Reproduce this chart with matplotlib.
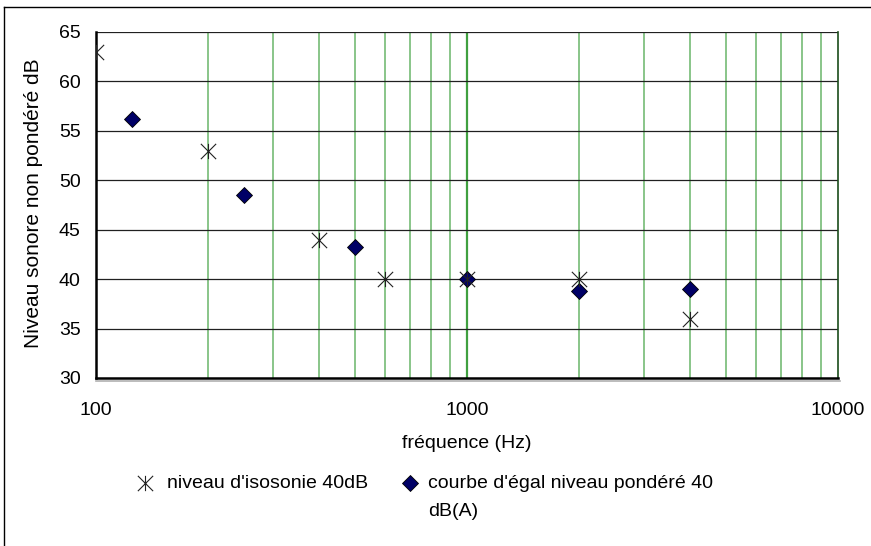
import matplotlib
matplotlib.use("Agg")
import matplotlib.pyplot as plt
from matplotlib.path import Path
from matplotlib.lines import Line2D
from matplotlib.ticker import NullLocator

plt.rcParams['font.family'] = ['Liberation Sans', 'DejaVu Sans']

# isosonie 40 dB
iso_freq = [100, 200, 400, 600, 1000, 2000, 4000]
iso_level = [63, 53, 44, 40, 40, 40, 36]

# courbe ponderee A
dba_freq = [125, 250, 500, 1000, 2000, 4000]
dba_level = [56.2, 48.5, 43.3, 40, 38.8, 39]

y_ticks = [30, 35, 40, 45, 50, 55, 60, 65]
x_ticks = [100, 1000, 10000]
x_labels = ['100', '1000', '10000']
minor_freqs = [200, 300, 400, 500, 600, 700, 800, 900,
               2000, 3000, 4000, 5000, 6000, 7000, 8000, 9000]

W, H = 871, 546

# asterisk like excel (vertical + two diagonals)
star = Path([(0, -1), (0, 1), (-1, -1), (1, 1), (-1, 1), (1, -1)],
            [Path.MOVETO, Path.LINETO, Path.MOVETO, Path.LINETO, Path.MOVETO, Path.LINETO])

fig = plt.figure(figsize=(W / 100, H / 100), dpi=100)
ax = fig.add_axes([96 / W, 1 - 378 / H, 742 / W, 346 / H])

ax.set_xscale('log')
ax.set_xlim(100, 10000)
ax.set_ylim(30, 65)

for f in minor_freqs:
    ax.axvline(f, color='#80c080', lw=1.3, zorder=1)
ax.axvline(1000, color='#40a040', lw=1.6, zorder=1)
for y in y_ticks[1:]:
    ax.axhline(y, color='#202020', lw=0.9, zorder=1)

# the 100 Hz point is cut by the axis, like in the original
ax.plot(iso_freq, iso_level, linestyle='none', marker=star, markersize=11,
        markeredgecolor='#222222', markeredgewidth=0.8, color='black',
        clip_on=True, zorder=4)
ax.plot(dba_freq, dba_level, linestyle='none', marker='D', markersize=8,
        markerfacecolor='#000066', markeredgecolor='black', markeredgewidth=0.6,
        clip_on=False, zorder=3)

ax.set_xticks(x_ticks)
ax.set_xticklabels(x_labels)
ax.xaxis.set_minor_locator(NullLocator())
ax.set_yticks(y_ticks)
ax.tick_params(axis='both', length=0, labelsize=14)
ax.tick_params(axis='x', pad=17)
ax.tick_params(axis='y', pad=11)

ax.spines['top'].set_visible(False)
ax.spines['left'].set_linewidth(1.8)
ax.spines['left'].set_color('black')
ax.spines['bottom'].set_linewidth(1.8)
ax.spines['bottom'].set_color('black')
ax.spines['right'].set_color('#1a4d1a')
ax.spines['right'].set_linewidth(1.2)
# grey line under bottom axis
ax.add_line(Line2D([0, 1.003], [-0.008, -0.008], transform=ax.transAxes,
                   color='#b0b0b0', lw=1.2, clip_on=False))

# axis titles
fig.text(467 / W, 1 - 443 / H, 'fréquence (Hz)', fontsize=14,
         ha='center', va='center')
fig.text(34 / W, 1 - 203 / H, 'Niveau sonore non pondéré dB', fontsize=15,
         ha='center', va='center', rotation=90)

# legend drawn by hand below the plot
leg_y = 1 - 483 / H
fig.add_artist(Line2D([145 / W], [leg_y], marker=star, markersize=11,
                      markeredgecolor='#222222', markeredgewidth=0.8,
                      transform=fig.transFigure))
fig.text(167 / W, leg_y, "niveau d'isosonie 40dB", fontsize=14,
         va='center', ha='left')
fig.add_artist(Line2D([410 / W], [leg_y], marker='D', markersize=8,
                      markerfacecolor='#000066', markeredgecolor='black',
                      markeredgewidth=0.6, transform=fig.transFigure))
fig.text(428 / W, leg_y, "courbe d'égal niveau pondéré 40",
         fontsize=14, va='center', ha='left')
fig.text(428 / W, 1 - 511 / H, "dB(A)", fontsize=14, va='center', ha='left')

# outer frame (only top and left edges visible)
fig.add_artist(Line2D([4 / W, 1], [1 - 7 / H, 1 - 7 / H], transform=fig.transFigure,
                      color='black', lw=1))
fig.add_artist(Line2D([4 / W, 4 / W], [0, 1 - 7 / H], transform=fig.transFigure,
                      color='black', lw=1))

fig.savefig('out.png', dpi=100)
